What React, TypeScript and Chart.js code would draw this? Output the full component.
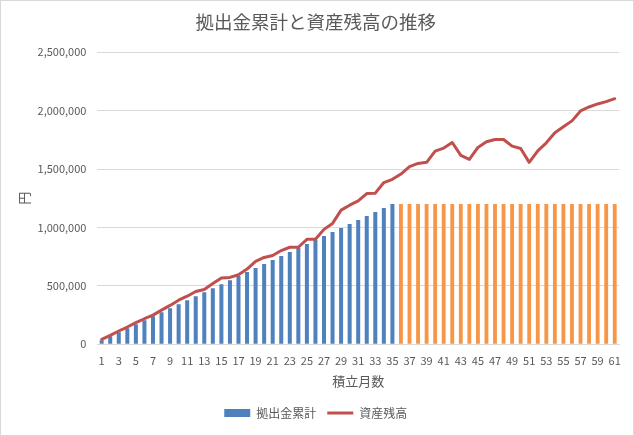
import { useEffect, useRef } from "react";
import { Chart, registerables } from "chart.js";

Chart.register(...registerables);

const months = [
  "1", "2", "3", "4", "5", "6", "7", "8", "9", "10",
  "11", "12", "13", "14", "15", "16", "17", "18", "19", "20",
  "21", "22", "23", "24", "25", "26", "27", "28", "29", "30",
  "31", "32", "33", "34", "35", "36", "37", "38", "39", "40",
  "41", "42", "43", "44", "45", "46", "47", "48", "49", "50",
  "51", "52", "53", "54", "55", "56", "57", "58", "59", "60",
  "61",
];

// 拠出金累計 (積立期間: 1〜35ヶ月)
const contributionRising = [
  34286, 68571, 102857, 137143, 171429, 205714, 240000, 274286, 308571, 342857,
  377143, 411429, 445714, 480000, 514286, 548571, 582857, 617143, 651429, 685714,
  720000, 754286, 788571, 822857, 857143, 891429, 925714, 960000, 994286, 1028571,
  1062857, 1097143, 1131429, 1165714, 1200000,
];

// 拠出金累計 (据置期間: 36〜61ヶ月)
const contributionFixed = [
  1200000, 1200000, 1200000, 1200000, 1200000, 1200000, 1200000, 1200000, 1200000, 1200000,
  1200000, 1200000, 1200000, 1200000, 1200000, 1200000, 1200000, 1200000, 1200000, 1200000,
  1200000, 1200000, 1200000, 1200000, 1200000, 1200000,
];

// 資産残高
const balance = [
  42000, 76000, 113000, 147000, 184000, 218000, 249000, 292000, 332000, 377000,
  411000, 451000, 468000, 519000, 567000, 572000, 595000, 643000, 709000, 743000,
  760000, 802000, 830000, 830000, 898000, 898000, 983000, 1034000, 1148000, 1190000,
  1227000, 1290000, 1293000, 1384000, 1412000, 1457000, 1520000, 1548000, 1557000, 1653000,
  1679000, 1727000, 1617000, 1582000, 1685000, 1733000, 1753000, 1753000, 1696000, 1676000,
  1557000, 1656000, 1724000, 1810000, 1861000, 1912000, 1997000, 2031000, 2057000, 2077000,
  2102000,
];

const yTicks = [0, 500000, 1000000, 1500000, 2000000, 2500000];

const FONT = "'Noto Sans CJK JP', 'Noto Sans', sans-serif";
const TEXT = "#595959";
const GRID = "#d9d9d9";

export default function App() {
  const ref = useRef<HTMLCanvasElement>(null);

  useEffect(() => {
    document.body.style.margin = "0";
    const canvas = ref.current;
    if (!canvas) return;
    const nRise = contributionRising.length;
    const blue = months.map((_, i) => (i < nRise ? contributionRising[i] : null));
    const orange = months.map((_, i) => (i < nRise ? null : contributionFixed[i - nRise]));

    const chart = new Chart(canvas, {
      type: "bar",
      data: {
        labels: months,
        datasets: [
          {
            type: "bar",
            label: "拠出金累計",
            data: blue,
            backgroundColor: "#4F81BD",
            borderWidth: 0,
            grouped: false,
            barPercentage: 0.47,
            categoryPercentage: 1,
            order: 1,
          } as any,
          {
            type: "bar",
            label: "拠出金累計(据置)",
            data: orange,
            backgroundColor: "#F79646",
            borderWidth: 0,
            grouped: false,
            barPercentage: 0.45,
            categoryPercentage: 1,
            order: 2,
          } as any,
          {
            type: "line",
            label: "資産残高",
            data: balance,
            borderColor: "#C0504D",
            backgroundColor: "#C0504D",
            borderWidth: 3,
            pointRadius: 0,
            pointHoverRadius: 0,
            tension: 0,
            fill: false,
            borderJoinStyle: "round",
            borderCapStyle: "round",
            order: 0,
          } as any,
        ],
      },
      options: {
        responsive: false,
        animation: false,
        layout: { padding: { left: 11.5, right: 14, top: 0, bottom: 6 } },
        plugins: {
          tooltip: { enabled: false },
          title: {
            display: true,
            text: "拠出金累計と資産残高の推移",
            color: TEXT,
            font: { family: FONT, size: 18.5, weight: "normal" },
            padding: { top: 10, bottom: 19 },
          },
          legend: {
            position: "bottom",
            labels: {
              color: TEXT,
              font: { family: FONT, size: 12 },
              usePointStyle: true,
              pointStyleWidth: 26,
              boxHeight: 8,
              padding: 11,
              sort: (a: any, b: any) => a.datasetIndex - b.datasetIndex,
              generateLabels: (c: any) => {
                const items = Chart.defaults.plugins.legend.labels.generateLabels(c);
                return items
                  .filter((it: any) => it.datasetIndex !== 1)
                  .map((it: any) =>
                    it.datasetIndex === 2
                      ? { ...it, pointStyle: "line", lineWidth: 3, strokeStyle: "#C0504D" }
                      : { ...it, pointStyle: "rect", lineWidth: 0 }
                  );
              },
            },
          },
        },
        scales: {
          x: {
            type: "category",
            offset: true,
            grid: { display: false, drawTicks: false },
            border: { display: true, color: GRID },
            ticks: {
              color: TEXT,
              font: { family: FONT, size: 11 },
              autoSkip: false,
              maxRotation: 0,
              minRotation: 0,
              padding: 10,
              callback: (_v: any, idx: number) => (idx % 2 === 0 ? months[idx] : ""),
            },
            title: {
              display: true,
              text: "積立月数",
              color: TEXT,
              font: { family: FONT, size: 13 },
              padding: { top: -4, bottom: 7 },
            },
          },
          y: {
            min: yTicks[0],
            max: yTicks[yTicks.length - 1],
            grid: { color: GRID, drawTicks: false },
            border: { display: false },
            afterFit: (s: any) => {
              s.width = 84.9;
            },
            afterBuildTicks: (s: any) => {
              s.ticks = yTicks.map((v) => ({ value: v }));
            },
            ticks: {
              color: TEXT,
              font: { family: FONT, size: 11 },
              padding: 11,
              callback: (v: any) => Number(v).toLocaleString("en-US"),
            },
            title: {
              display: true,
              text: "円",
              color: TEXT,
              font: { family: FONT, size: 13 },
              padding: { top: 4, bottom: 4 },
            },
          },
        },
      } as any,
    });
    return () => chart.destroy();
  }, []);

  return (
    <div
      style={{
        width: 634,
        height: 436,
        boxSizing: "border-box",
        border: "1px solid #d9d9d9",
        background: "#fff",
      }}
    >
      <canvas ref={ref} width={632} height={434} style={{ display: "block", width: 632, height: 434 }} />
    </div>
  );
}
